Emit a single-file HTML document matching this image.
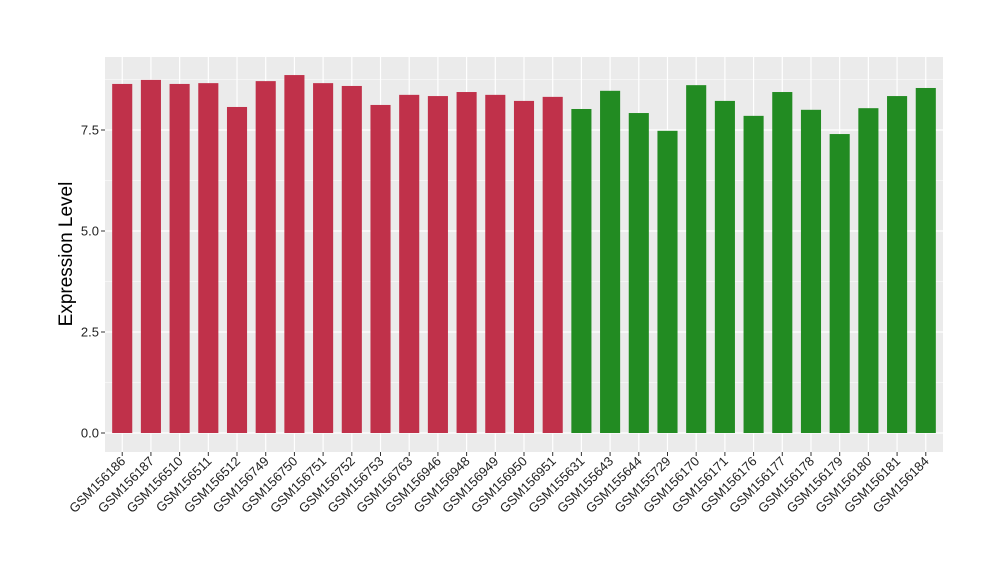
<!DOCTYPE html>
<html><head><meta charset="utf-8"><style>
body{margin:0;background:#fff;}
svg text{font-family:"Liberation Sans",Arial,sans-serif;}
</style></head><body>
<svg id="chart" width="1000" height="580" xmlns="http://www.w3.org/2000/svg">
<rect x="105" y="57" width="838" height="395" fill="#ebebeb"/>
<g id="grid"></g><g id="bars"></g><g id="yaxis"></g><g id="xaxis"></g>
<text transform="translate(72,254) rotate(-90)" text-anchor="middle" font-size="19" fill="#000">Expression Level</text>
</svg>
<script>
const categories=["GSM156186","GSM156187","GSM156510","GSM156511","GSM156512","GSM156749","GSM156750","GSM156751","GSM156752","GSM156753","GSM156763","GSM156946","GSM156948","GSM156949","GSM156950","GSM156951","GSM155631","GSM155643","GSM155644","GSM155729","GSM156170","GSM156171","GSM156176","GSM156177","GSM156178","GSM156179","GSM156180","GSM156181","GSM156184"];
const values=[8.64,8.74,8.64,8.66,8.07,8.71,8.86,8.66,8.59,8.12,8.37,8.34,8.44,8.37,8.22,8.32,8.02,8.47,7.92,7.48,8.61,8.22,7.85,8.44,8.00,7.40,8.04,8.34,8.54];
const groups=["a","a","a","a","a","a","a","a","a","a","a","a","a","a","a","a","b","b","b","b","b","b","b","b","b","b","b","b","b"];
const yTicks=[0,2.5,5,7.5];
const yTickLabels=["0.0","2.5","5.0","7.5"];
const colors={a:"#c0314a",b:"#228b22"};
const NS="http://www.w3.org/2000/svg";
const L=105,R=943,T=57,B=452;
const step=(R-L)/(categories.length-1+1.2);
const x=i=>L+step*(0.6+i);
const y=v=>433-v*40.4;
function mk(tag,attrs,parent){const e=document.createElementNS(NS,tag);for(const k in attrs)e.setAttribute(k,attrs[k]);parent.appendChild(e);return e;}
const grid=document.getElementById('grid'),bars=document.getElementById('bars'),ya=document.getElementById('yaxis'),xa=document.getElementById('xaxis');
for(let v=-1.25;v<=10;v+=1.25){const yy=y(v);if(yy<T||yy>B)continue;const major=Math.abs(v/2.5-Math.round(v/2.5))<1e-6;
const g=mk('line',{x1:L,x2:R,y1:yy,y2:yy,stroke:'#fff','stroke-width':major?1.2:0.6},grid);

}
categories.forEach((c,i)=>{const g=mk('line',{x1:x(i),x2:x(i),y1:T,y2:B,stroke:'#fff','stroke-width':1.2},grid);


const bw=step*0.7;
const r=mk('rect',{x:x(i)-bw/2,y:y(values[i]),width:bw,height:y(0)-y(values[i]),fill:colors[groups[i]]},bars);


const t=mk('line',{x1:x(i),x2:x(i),y1:B,y2:B+4,stroke:'#333'},xa);


const tx=mk('text',{x:x(i)+4,y:B+10,'font-size':13,'text-anchor':'end',fill:'#222',transform:`rotate(-45 ${x(i)+4} ${B+10})`},xa);
tx.textContent=c;

});
yTicks.forEach((v,i)=>{const t=mk('line',{x1:L-4,x2:L,y1:y(v),y2:y(v),stroke:'#333'},ya);


const tx=mk('text',{x:L-6,y:y(v)+4.5,'font-size':13,'text-anchor':'end',fill:'#222'},ya);
tx.textContent=yTickLabels[i];

});
</script>
</body></html>
